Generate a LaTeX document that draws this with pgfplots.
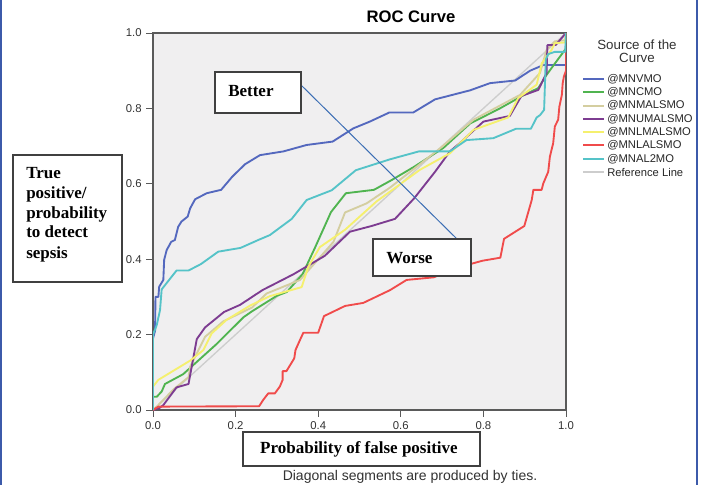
\documentclass[border=0pt]{standalone}
\usepackage{fontspec}
\setmainfont{Liberation Serif}
\setsansfont{Liberation Sans}
\usepackage{pgfplots}
\pgfplotsset{compat=1.18}

\definecolor{cMNV}{RGB}{84,104,190}
\definecolor{cMNC}{RGB}{80,180,80}
\definecolor{cMNMAL}{RGB}{212,206,160}
\definecolor{cMNUMAL}{RGB}{125,60,145}
\definecolor{cMNLMAL}{RGB}{245,240,110}
\definecolor{cMNLAL}{RGB}{240,75,75}
\definecolor{cMNAL2}{RGB}{85,195,200}
\definecolor{refgray}{RGB}{205,205,205}
\definecolor{bggray}{RGB}{240,239,240}
\definecolor{framegray}{RGB}{90,90,90}
\definecolor{ticktext}{RGB}{50,50,50}
\definecolor{arrowblue}{RGB}{60,110,180}
\definecolor{edgeblue}{RGB}{60,90,170}

\tikzset{legtext/.style={anchor=west, inner sep=0, text=black!85,
  font=\sffamily\fontsize{8.4}{10}\selectfont}}

\begin{document}
\begin{tikzpicture}
\begin{axis}[
  at={(114.75pt,-307.5pt)}, anchor=south west,
  scale only axis, width=309.75pt, height=282.75pt,
  xmin=0, xmax=1, ymin=0, ymax=1,
  xtick={0,0.2,0.4,0.6,0.8,1}, ytick={0,0.2,0.4,0.6,0.8,1},
  tick align=outside, tick pos=left,
  major tick length=5pt,
  axis line style={draw=framegray, line width=0.9pt},
  every tick/.style={draw=framegray, line width=0.7pt},
  axis background/.style={fill=bggray},
  tick label style={font=\sffamily\fontsize{8.5}{10}\selectfont, text=ticktext},
  /pgf/number format/.cd, fixed, fixed zerofill, precision=1, assume math mode=true,
]
% reference line
\addplot[draw=refgray, line width=1pt] coordinates {(0,0) (1,1)};

% @MNVMO
\addplot[draw=cMNV, line width=1.4pt, line join=round] coordinates {
(0,0) (0,0.19) (0.005,0.21) (0.006,0.30) (0.013,0.30) (0.015,0.327) (0.025,0.345)
(0.027,0.398) (0.033,0.424) (0.044,0.446) (0.053,0.451) (0.061,0.486) (0.069,0.50)
(0.084,0.513) (0.090,0.535) (0.102,0.559) (0.13,0.575) (0.165,0.584) (0.192,0.619)
(0.223,0.652) (0.259,0.676) (0.316,0.686) (0.372,0.703) (0.435,0.712) (0.485,0.747)
(0.525,0.765) (0.572,0.789) (0.63,0.789) (0.683,0.824) (0.768,0.848) (0.816,0.867)
(0.877,0.874) (0.913,0.9) (0.945,0.915) (1.0,0.915) (1,1)};

% @MNCMO
\addplot[draw=cMNC, line width=1.4pt, line join=round] coordinates {
(0,0) (0,0.035) (0.009,0.035) (0.021,0.049) (0.029,0.069) (0.073,0.095) (0.154,0.175)
(0.219,0.246) (0.24,0.262) (0.3,0.303) (0.324,0.313) (0.362,0.36) (0.392,0.43)
(0.431,0.525) (0.467,0.575) (0.535,0.584) (0.578,0.61) (0.632,0.645) (0.703,0.695)
(0.768,0.76) (0.84,0.8) (0.892,0.832) (0.933,0.854) (0.953,0.889) (0.973,0.919)
(1.0,0.959) (1,1)};

% @MNMALSMO
\addplot[draw=cMNMAL, line width=1.4pt, line join=round] coordinates {
(0,0) (0.01,0.01) (0.05,0.055) (0.086,0.087) (0.09,0.115) (0.126,0.194) (0.17,0.235)
(0.24,0.272) (0.275,0.309) (0.356,0.345) (0.437,0.446) (0.465,0.524) (0.517,0.548)
(0.574,0.59) (0.695,0.694) (0.776,0.77) (0.889,0.836) (0.937,0.894) (0.953,0.955)
(0.973,0.978) (0.998,0.981) (1,1)};

% @MNUMALSMO
\addplot[draw=cMNUMAL, line width=1.4pt, line join=round] coordinates {
(0,0) (0.015,0.005) (0.025,0.013) (0.057,0.06) (0.086,0.069) (0.106,0.188) (0.126,0.219)
(0.172,0.26) (0.211,0.279) (0.265,0.318) (0.34,0.36) (0.416,0.409) (0.477,0.473)
(0.529,0.488) (0.586,0.507) (0.632,0.561) (0.683,0.632) (0.719,0.686) (0.743,0.708)
(0.8,0.765) (0.864,0.78) (0.892,0.833) (0.933,0.849) (0.953,0.894) (0.955,0.968)
(0.975,0.968) (1,1)};

% @MNLMALSMO
\addplot[draw=cMNLMAL, line width=1.4pt, line join=round] coordinates {
(0,0) (0,0.062) (0.013,0.08) (0.09,0.131) (0.122,0.159) (0.142,0.203) (0.178,0.239)
(0.235,0.277) (0.283,0.302) (0.36,0.326) (0.376,0.38) (0.404,0.432) (0.465,0.478)
(0.541,0.553) (0.646,0.637) (0.719,0.681) (0.776,0.743) (0.86,0.776) (0.884,0.827)
(0.929,0.863) (0.941,0.919) (0.965,0.955) (0.973,0.973) (0.998,0.975) (1,1)};

% @MNLALSMO
\addplot[draw=cMNLAL, line width=1.4pt, line join=round] coordinates {
(0,0) (0.013,0.009) (0.257,0.01) (0.267,0.027) (0.279,0.044) (0.295,0.044) (0.307,0.062)
(0.314,0.08) (0.314,0.103) (0.323,0.103) (0.332,0.119) (0.342,0.137) (0.345,0.159)
(0.356,0.186) (0.364,0.205) (0.40,0.205) (0.414,0.249) (0.465,0.276) (0.509,0.284)
(0.574,0.318) (0.614,0.345) (0.68,0.352) (0.743,0.38) (0.768,0.387) (0.798,0.396)
(0.841,0.404) (0.85,0.454) (0.899,0.488) (0.917,0.557) (0.921,0.584) (0.941,0.584)
(0.945,0.601) (0.957,0.632) (0.961,0.672) (0.969,0.708) (0.973,0.752) (0.981,0.77)
(0.984,0.805) (0.99,0.836) (0.992,0.867) (0.995,0.885) (1.0,0.9) (1,1)};

% @MNAL2MO
\addplot[draw=cMNAL2, line width=1.4pt, line join=round] coordinates {
(0,0) (0,0.2) (0.009,0.225) (0.017,0.265) (0.021,0.32) (0.057,0.37) (0.086,0.37)
(0.116,0.387) (0.158,0.42) (0.212,0.43) (0.255,0.451) (0.283,0.464) (0.336,0.507)
(0.372,0.557) (0.433,0.583) (0.491,0.636) (0.574,0.665) (0.644,0.686) (0.719,0.686)
(0.759,0.716) (0.824,0.721) (0.879,0.746) (0.915,0.746) (0.929,0.776) (0.937,0.782)
(0.947,0.796) (0.951,0.93) (0.957,0.944) (0.973,0.95) (0.998,0.95) (1,1)};
\end{axis}

% annotations, in pixels of the 704x485 reference
\begin{scope}[x=0.75pt, y=-0.75pt]
  \node[font=\sffamily\bfseries\fontsize{12.5}{14}\selectfont] at (411,17) {ROC Curve};

  \draw[arrowblue, line width=0.75pt] (301,85) -- (457,239);
  \draw[draw=black!75, fill=white, line width=0.8pt] (215,72) rectangle (301,113);
  \node[anchor=west, inner sep=0, font=\bfseries\fontsize{12.75}{15}\selectfont] at (228,91) {Better};
  \draw[draw=black!75, fill=white, line width=0.8pt] (373,239) rectangle (471,276);
  \node[anchor=west, inner sep=0, font=\bfseries\fontsize{12.75}{15}\selectfont] at (386,258) {Worse};

  \draw[draw=black!75, fill=white, line width=0.8pt] (13,155) rectangle (122,282);
  \foreach \t [count=\i from 0] in {True,positive/,probability,to detect,sepsis}
    \node[anchor=base west, inner sep=0, font=\bfseries\fontsize{12.75}{15}\selectfont] at (26,178+20*\i) {\t};

  \draw[draw=black!75, fill=white, line width=0.8pt] (243,432) rectangle (480,466);
  \node[inner sep=0, font=\bfseries\fontsize{12.75}{15}\selectfont] at (359,449) {Probability of false positive};

  \node[font=\sffamily\fontsize{10.5}{12}\selectfont, text=ticktext] at (410,477) {Diagonal segments are produced by ties.};

  % legend
  \node[font=\sffamily\fontsize{10}{12}\selectfont, text=ticktext] at (637,45) {Source of the};
  \node[font=\sffamily\fontsize{10}{12}\selectfont, text=ticktext] at (637,58) {Curve};
  \draw[cMNV, line width=1.5pt] (583,79) -- (604,79);
  \node[legtext] at (607,79) {@MNVMO};
  \draw[cMNC, line width=1.5pt] (583,92.3) -- (604,92.3);
  \node[legtext] at (607,92.3) {@MNCMO};
  \draw[cMNMAL, line width=1.5pt] (583,105.6) -- (604,105.6);
  \node[legtext] at (607,105.6) {@MNMALSMO};
  \draw[cMNUMAL, line width=1.5pt] (583,118.9) -- (604,118.9);
  \node[legtext] at (607,118.9) {@MNUMALSMO};
  \draw[cMNLMAL, line width=1.5pt] (583,132.2) -- (604,132.2);
  \node[legtext] at (607,132.2) {@MNLMALSMO};
  \draw[cMNLAL, line width=1.5pt] (583,145.5) -- (604,145.5);
  \node[legtext] at (607,145.5) {@MNLALSMO};
  \draw[cMNAL2, line width=1.5pt] (583,158.8) -- (604,158.8);
  \node[legtext] at (607,158.8) {@MNAL2MO};
  \draw[refgray, line width=1.5pt] (583,172.1) -- (604,172.1);
  \node[legtext] at (607,172.1) {Reference Line};

  \draw[edgeblue, line width=1pt] (1,0) -- (1,485);
  \draw[edgeblue, line width=1pt] (697,0) -- (697,485);

  \pgfresetboundingbox
  \path (0,0) rectangle (704,485);
\end{scope}
\end{tikzpicture}
\end{document}
